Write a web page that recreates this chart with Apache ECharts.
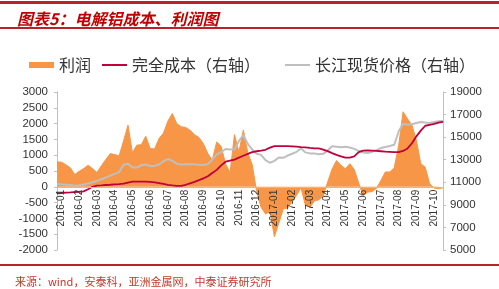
<!DOCTYPE html>
<html>
<head>
<meta charset="utf-8">
<script src="https://cdn.jsdelivr.net/npm/echarts/dist/echarts.min.js"></script>
<style>
html,body{margin:0;padding:0;background:#fff;}
#chart{width:499px;height:289px;}
</style>
</head>
<body>
<div id="chart"></div>
<script>
// Month tick labels
var monthLabels = ['2016-01','2016-02','2016-03','2016-04','2016-05','2016-06','2016-07','2016-08','2016-09','2016-10','2016-11','2016-12',
  '2017-01','2017-02','2017-03','2017-04','2017-05','2017-06','2017-07','2017-08','2017-09','2017-10'];
// Weekly categories: one week of 2015-12, 4 weeks per month, 3 weeks of 2017-10
var weeksPerMonth = [4,4,4,4,4,4,4,4,4,4,4,4,4,4,4,4,4,4,4,4,4,3];
var categories = ['2015-12 w4'];
monthLabels.forEach(function (m, k) {
  for (var w = 1; w <= weeksPerMonth[k]; w++) categories.push(m + ' w' + w);
});

// 利润 (left axis)
var profit = [790,780,700,600,390,490,580,680,580,450,
  670,860,1050,1020,980,1450,1950,1080,1320,1330,
  1600,1210,1200,1530,1700,2080,2320,2000,1900,1880,
  1790,1650,1560,1360,1050,850,1420,1280,720,450,
  1650,1100,1800,1080,700,-150,-650,-860,-790,-1580,
  -1150,-700,-670,-480,-270,-30,-590,-650,-450,-410,
  -300,150,560,830,680,570,730,550,120,-280,
  -170,-150,-50,200,470,470,600,1300,2375,2150,
  1950,1470,730,620,90,-40,-60,-30];

// 完全成本 (right axis)
var cost = [10020,10050,10080,10100,10130,10160,10200,10380,10600,10710,
  10730,10760,10780,10810,10840,10890,10980,11050,11050,11050,
  11050,11040,11000,10930,10850,10770,10720,10680,10690,10780,
  10910,11040,11190,11350,11530,11830,12100,12500,12820,12920,
  13010,13180,13350,13510,13670,13750,13810,13880,14070,14210,
  14210,14210,14200,14180,14160,14120,14090,14040,14010,14000,
  13900,13760,13590,13430,13290,13180,13180,13300,13680,13800,
  13820,13800,13780,13750,13710,13700,13680,13670,13780,14000,
  14460,15070,15580,16010,16090,16170,16280,16350];

// 长江现货价格 (right axis)
var price = [10850,10830,10790,10750,10700,10740,10800,10900,11000,11120,
  11270,11420,11590,11750,11900,12560,12650,12300,12300,12510,
  12580,12440,12450,12580,12870,13060,12900,12650,12580,12590,
  12590,12590,12560,12540,12610,13000,13480,13660,13950,13900,
  13900,14650,15190,14400,13900,13520,13430,12960,12730,12900,
  13200,13170,13370,13530,13700,14000,13650,13560,13560,13480,
  13520,13810,14190,14150,14100,14140,14080,13960,13790,13630,
  13600,13690,13850,14030,14120,14220,14330,15500,16200,16100,
  16150,16250,16350,16290,16250,16340,16400,16430];

var chart = echarts.init(document.getElementById('chart'), null, {renderer: 'canvas'});
var redLine = '#B8232B';
var axisGray = '#BFBFBF';
var labelColor = '#333333';
var numFont = 'Liberation Sans, Arial, sans-serif';
var cjkFont = 'Noto Sans CJK SC, sans-serif';
var legendText = {color: labelColor, fontSize: 16, lineHeight: 16, fontFamily: cjkFont};
var plain = function (v) { return String(v); };

chart.setOption({
  animation: false,
  backgroundColor: '#ffffff',
  title: [
    {text: '图表5：电解铝成本、利润图', left: 12, top: 6,
     textStyle: {color: '#C00000', fontSize: 16, fontWeight: 'bold', fontStyle: 'italic', fontFamily: cjkFont}},
    {text: '来源：wind，安泰科，亚洲金属网，中泰证券研究所', left: 10, top: 271,
     textStyle: {color: '#C0392B', fontSize: 11, fontWeight: 'normal', fontFamily: cjkFont}}
  ],
  graphic: [
    {type: 'rect', shape: {x: 0, y: 1, width: 499, height: 3}, style: {fill: redLine}, silent: true},
    {type: 'rect', shape: {x: 0, y: 27, width: 499, height: 2}, style: {fill: redLine}, silent: true},
    {type: 'rect', shape: {x: 0, y: 264, width: 499, height: 2}, style: {fill: redLine}, silent: true}
  ],
  legend: [
    {left: 24, top: 52, itemWidth: 25, itemHeight: 6, textStyle: legendText,
     data: [{name: '利润', icon: 'rect'}]},
    {left: 97, top: 52, itemWidth: 25, itemHeight: 2, textStyle: legendText,
     data: [{name: '完全成本（右轴）', icon: 'rect'}]},
    {left: 280, top: 52, itemWidth: 25, itemHeight: 2, textStyle: legendText,
     data: [{name: '长江现货价格（右轴）', icon: 'rect'}]}
  ],
  grid: {left: 57, right: 56, top: 92, bottom: 39, containLabel: false},
  xAxis: {
    type: 'category',
    data: categories,
    boundaryGap: false,
    position: 'bottom',
    offset: -63.2,
    z: 10,
    axisLine: {show: true, onZero: false, lineStyle: {color: axisGray, width: 1}},
    axisTick: {show: false},
    splitLine: {show: false},
    axisLabel: {
      rotate: 90, margin: 3, color: labelColor, fontSize: 10, fontFamily: numFont,
      interval: function (index, value) { return /w1$/.test(value); },
      formatter: function (value) { return value.slice(0, 7); }
    }
  },
  yAxis: [
    {type: 'value', min: -2000, max: 3000, interval: 500, position: 'left',
     axisLine: {show: true, lineStyle: {color: axisGray}},
     axisTick: {show: true, length: 3, lineStyle: {color: axisGray}},
     splitLine: {show: false},
     axisLabel: {color: labelColor, fontSize: 11.5, fontFamily: numFont, margin: 9, formatter: plain}},
    {type: 'value', min: 5000, max: 19000, interval: 2000, position: 'right',
     axisLine: {show: true, lineStyle: {color: axisGray}},
     axisTick: {show: true, length: 3, lineStyle: {color: axisGray}},
     splitLine: {show: false},
     axisLabel: {color: labelColor, fontSize: 11.5, fontFamily: numFont, margin: 7, formatter: plain}}
  ],
  series: [
    {name: '利润', type: 'line', yAxisIndex: 0, data: profit, symbol: 'none',
     color: '#F79646',
     lineStyle: {color: '#F79646', width: 1},
     areaStyle: {color: '#F79646', opacity: 1}, z: 1},
    {name: '长江现货价格（右轴）', type: 'line', yAxisIndex: 1, data: price, symbol: 'none',
     color: '#BFBFBF', lineStyle: {color: '#BFBFBF', width: 2}, z: 2},
    {name: '完全成本（右轴）', type: 'line', yAxisIndex: 1, data: cost, symbol: 'none',
     color: '#C0003C', lineStyle: {color: '#C0003C', width: 1.8}, z: 3}
  ]
});
</script>
</body>
</html>
